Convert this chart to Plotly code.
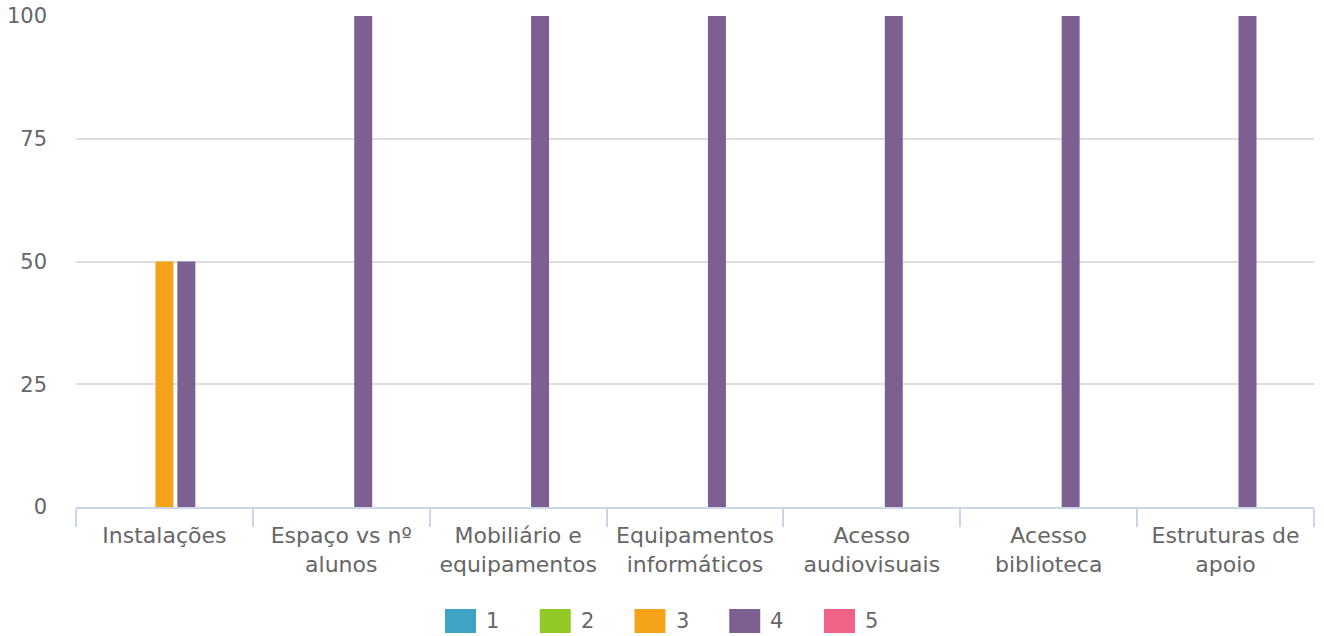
import plotly.graph_objects as go

categories = ["Instalações", "Espaço vs nº<br>alunos", "Mobiliário e<br>equipamentos",
              "Equipamentos<br>informáticos", "Acesso<br>audiovisuais", "Acesso<br>biblioteca",
              "Estruturas de<br>apoio"]
series_names = ["1", "2", "3", "4", "5"]
series_values = [
    [0, 0, 0, 0, 0, 0, 0],
    [0, 0, 0, 0, 0, 0, 0],
    [50, 0, 0, 0, 0, 0, 0],
    [50, 100, 100, 100, 100, 100, 100],
    [0, 0, 0, 0, 0, 0, 0],
]
colors = ["#3fa3c4", "#93c924", "#f5a31a", "#7b6091", "#f06386"]
y_ticks = [0, 25, 50, 75, 100]

W, H = 1324, 636
ML, MR, MT, MB = 76, 10, 16, 129
PW, PH = W - ML - MR, H - MT - MB

def px_x(p):
    return (p - ML) / PW

def px_y(p):
    return (H - MB - p) / PH

fig = go.Figure()
for name, vals, col in zip(series_names, series_values, colors):
    fig.add_trace(go.Bar(x=categories, y=vals, name=name, marker=dict(color=col, line=dict(width=0))))

font = dict(family="DejaVu Sans, Verdana, sans-serif", size=21, color="#666666")
xfont = dict(family="DejaVu Sans, Verdana, sans-serif", size=22, color="#666666")

# custom legend (larger swatches like the reference)
for i, (name, col) in enumerate(zip(series_names, colors)):
    x0 = 445 + i * 94.75
    fig.add_shape(type="rect", xref="paper", yref="paper",
                  x0=px_x(x0), x1=px_x(x0 + 31), y0=px_y(633), y1=px_y(609),
                  fillcolor=col, line=dict(width=0))
    fig.add_annotation(xref="paper", yref="paper", x=px_x(x0 + 39), y=px_y(621),
                       text=name, showarrow=False, xanchor="left", yanchor="middle",
                       font=font)

fig.update_layout(
    width=W, height=H,
    margin=dict(l=ML, r=MR, t=MT, b=MB),
    plot_bgcolor="white", paper_bgcolor="white",
    font=font,
    barmode="group", bargap=0.38, bargroupgap=0.18,
    showlegend=False,
    xaxis=dict(tickson="boundaries", ticks="outside", ticklen=18, tickwidth=2, tickcolor="#ccd6eb",
               showline=True, linecolor="#ccd6eb", linewidth=2, showgrid=False,
               ticklabelstandoff=8, tickfont=xfont, automargin=False),
    yaxis=dict(range=[0, 100], tickvals=y_ticks, showgrid=True, gridcolor="#dddddd", gridwidth=2,
               zeroline=False, showline=False, ticks="", ticklabelstandoff=28, tickfont=font,
               automargin=False),
)
fig.write_html("out.html", config={"displayModeBar": False},
               post_script="document.body.style.margin='0';document.body.style.padding='0';")
